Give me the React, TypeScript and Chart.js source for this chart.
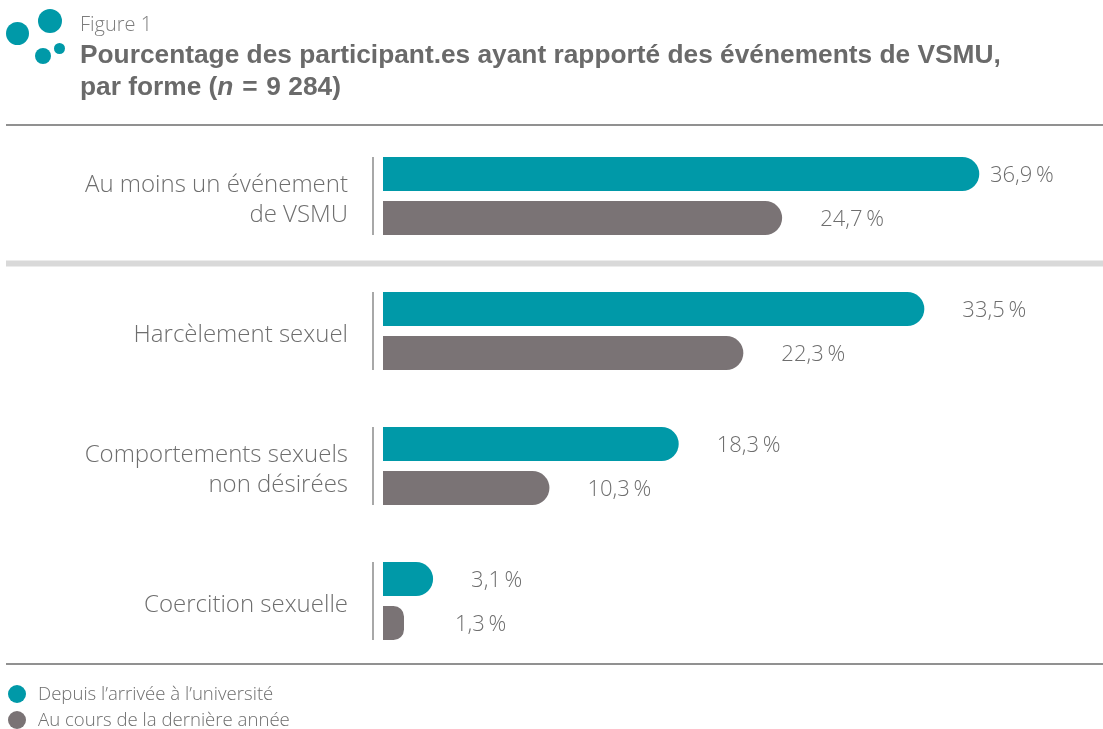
import React, { useEffect, useRef } from "react";
import { Chart, registerables } from "chart.js";

Chart.register(...registerables);

// ---- Data ----
const categories: (string | string[])[] = [
  ["Au moins un événement", "de VSMU"],
  "Harcèlement sexuel",
  ["Comportements sexuels", "non désirées"],
  "Coercition sexuelle",
];
const seriesNames = ["Depuis l’arrivée à l’université", "Au cours de la dernière année"];
const sinceArrival = [36.9, 33.5, 18.3, 3.1];
const lastYear = [24.7, 22.3, 10.3, 1.3];
const xMax = 44;

const TEAL = "#0099a8";
const GREY = "#7a7375";
const TEXT = "#6e6e6e";
const RULE = "#6e6e6e";
const SEP = "#d9d9d9";
const SANS = "'Open Sans', 'Liberation Sans', sans-serif";

const fmt = (v: number) => v.toFixed(1).replace(".", ",") + "\u2009%";

const decorPlugin = {
  id: "decor",
  afterDatasetsDraw(chart: any) {
    const { ctx, chartArea, width } = chart;
    const yScale = chart.scales.y;
    ctx.save();
    // top & bottom rules
    ctx.strokeStyle = RULE;
    ctx.lineWidth = 1.5;
    ctx.beginPath();
    ctx.moveTo(6, 125);
    ctx.lineTo(width, 125);
    ctx.moveTo(6, 664);
    ctx.lineTo(width, 664);
    ctx.stroke();
    // thick separator between first category and the rest
    const sepY = (yScale.getPixelForValue(0) + yScale.getPixelForValue(1)) / 2;
    ctx.fillStyle = SEP;
    ctx.fillRect(6, sepY - 3, width - 6, 6);
    // per-group vertical lines
    const m0 = chart.getDatasetMeta(0);
    const m1 = chart.getDatasetMeta(1);
    ctx.strokeStyle = RULE;
    ctx.lineWidth = 1.2;
    for (let i = 0; i < categories.length; i++) {
      const a = m0.data[i];
      const b = m1.data[i];
      const top = a.y - a.height / 2;
      const bot = b.y + b.height / 2;
      const x = chartArea.left - 10;
      ctx.beginPath();
      ctx.moveTo(x, top);
      ctx.lineTo(x, bot);
      ctx.stroke();
    }
    // category labels (right aligned)
    ctx.fillStyle = TEXT;
    ctx.font = `300 24px ${SANS}`;
    ctx.textAlign = "right";
    ctx.textBaseline = "alphabetic";
    categories.forEach((c, i) => {
      const lines = Array.isArray(c) ? c : [c];
      const cy = yScale.getPixelForValue(i);
      lines.forEach((ln, k) => {
        const y = cy + (k - (lines.length - 1) / 2) * 29.5 + 11;
        ctx.fillText(ln, chartArea.left - 35, y);
      });
    });
    // value labels
    ctx.font = `300 22px ${SANS}`;
    ctx.textBaseline = "middle";
    ctx.textAlign = "left";
    [m0, m1].forEach((meta, di) => {
      const vals = di === 0 ? sinceArrival : lastYear;
      meta.data.forEach((bar: any, i: number) => {
        const x = Math.min(Math.max(bar.x + 38, 455), 990);
        ctx.fillText(fmt(vals[i]), x, bar.y + 1.5);
      });
    });
    ctx.restore();
  },
};

export default function App() {
  const ref = useRef<HTMLCanvasElement>(null);
  useEffect(() => {
    const chart = new Chart(ref.current as HTMLCanvasElement, {
      type: "bar",
      data: {
        labels: categories as any,
        datasets: [
          {
            label: seriesNames[0],
            data: sinceArrival,
            backgroundColor: TEAL,
            borderRadius: 17,
            borderSkipped: "start",
            categoryPercentage: 0.652,
            barPercentage: 0.773,
          },
          {
            label: seriesNames[1],
            data: lastYear,
            backgroundColor: GREY,
            borderRadius: 17,
            borderSkipped: "start",
            categoryPercentage: 0.652,
            barPercentage: 0.773,
          },
        ],
      },
      options: {
        indexAxis: "y",
        animation: false,
        responsive: false,
        devicePixelRatio: 1,
        layout: { padding: { left: 0, right: 9, top: 128.5, bottom: 60.5 } },
        plugins: { legend: { display: false }, tooltip: { enabled: false } },
        scales: {
          x: { display: false, min: 0, max: xMax },
          y: {
            grid: { display: false, drawTicks: false },
            border: { display: false },
            ticks: { display: false },
            afterFit: (scale: any) => {
              scale.width = 383;
              scale.paddingTop = 0;
              scale.paddingBottom = 0;
            },
          },
        },
      },
      plugins: [decorPlugin],
    } as any);
    return () => chart.destroy();
  }, []);

  const circle = (x: number, y: number, r: number, c: string): React.CSSProperties => ({
    position: "absolute",
    left: x - r,
    top: y - r,
    width: 2 * r,
    height: 2 * r,
    borderRadius: "50%",
    background: c,
  });

  return (
    <div
      style={{
        position: "fixed",
        left: 0,
        top: 0,
        width: 1103,
        height: 729,
        background: "#fff",
        overflow: "hidden",
      }}
    >
      <canvas ref={ref} width={1103} height={729} style={{ position: "absolute", left: 0, top: 0, display: "block" }} />
      {/* logo */}
      <div style={circle(17.5, 33.5, 11.5, TEAL)} />
      <div style={circle(50, 21, 12, TEAL)} />
      <div style={circle(43, 55.5, 8, TEAL)} />
      <div style={circle(59, 48.5, 5.5, TEAL)} />
      {/* titles */}
      <div
        style={{
          position: "absolute",
          left: 80,
          top: 12,
          font: `300 20px/24px ${SANS}`,
          color: "#7d7d7d",
          whiteSpace: "nowrap",
        }}
      >
        Figure 1
      </div>
      <div
        style={{
          position: "absolute",
          left: 80,
          top: 38,
          font: `bold 26.3px/32px 'Liberation Sans', Arial, sans-serif`,
          color: "#6a6a6a",
          whiteSpace: "nowrap",
        }}
      >
        Pourcentage des participant.es ayant rapporté des événements de VSMU,
        <br />
        par forme (<i>n</i>{"\u2004=\u2004"}9 284)
      </div>
      {/* legend */}
      {seriesNames.map((name, i) => (
        <React.Fragment key={name}>
          <div style={circle(17, 694 + i * 26, 9.3, i === 0 ? TEAL : GREY)} />
          <div
            style={{
              position: "absolute",
              left: 38,
              top: 680 + i * 26,
              font: `300 18.6px/26px ${SANS}`,
              color: TEXT,
              whiteSpace: "nowrap",
            }}
          >
            {name}
          </div>
        </React.Fragment>
      ))}
    </div>
  );
}
